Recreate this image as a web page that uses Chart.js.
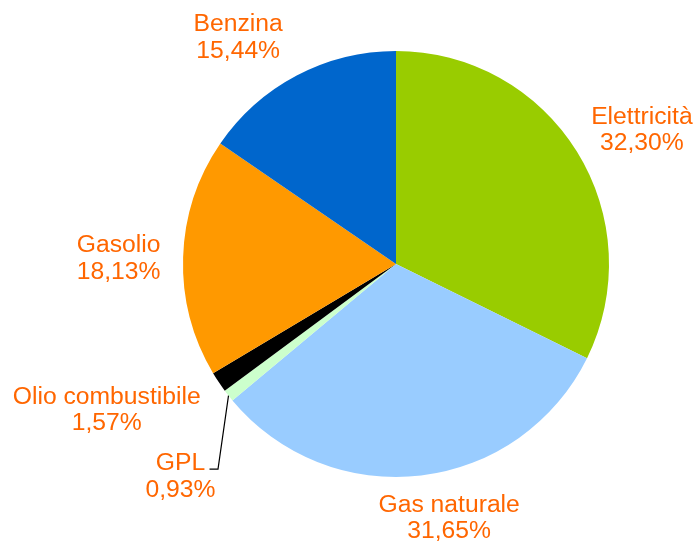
<!DOCTYPE html>
<html>
<head>
<meta charset="utf-8">
<script src="https://cdn.jsdelivr.net/npm/chart.js@4/dist/chart.umd.min.js"></script>
<style>
  body { margin: 0; background: #fff; }
  #wrap { width: 695px; height: 541px; }
</style>
</head>
<body>
<div id="wrap"><canvas id="myChart" width="695" height="541"></canvas></div>
<script>
// energy sources, clockwise from the top
const categories = ['Elettricità', 'Gas naturale', 'GPL', 'Olio combustibile', 'Gasolio', 'Benzina'];
const shares = [32.30, 31.65, 0.93, 1.57, 18.13, 15.44];
const sliceColors = ['#99cc00', '#99ccff', '#ccffcc', '#000000', '#ff9900', '#0066cc'];

// label offsets (px) from the point where each slice's mid-angle meets the rim;
// dx is the text centre, dy the first line's baseline
const labelLayout = [
  { dx: 65, dy: -28 },
  { dx: 28, dy: 36 },
  { dx: -48, dy: 74.5, leader: true },
  { dx: -112, dy: 21.5 },
  { dx: -64.5, dy: -5 },
  { dx: -58.5, dy: -44.5 }
];
const lineGap = 26.7;

const fmt = v => v.toFixed(2).replace('.', ',') + '%';

const pieLabels = {
  id: 'pieLabels',
  afterDatasetsDraw(chart) {
    const ctx = chart.ctx;
    const arcs = chart.getDatasetMeta(0).data;
    ctx.save();
    ctx.font = '24.7px "Liberation Sans", Arial, sans-serif';
    ctx.fillStyle = '#ff6600';
    ctx.textAlign = 'center';
    ctx.textBaseline = 'alphabetic';
    arcs.forEach((arc, i) => {
      const lay = labelLayout[i];
      const mid = (arc.startAngle + arc.endAngle) / 2;
      const ex = arc.x + Math.cos(mid) * arc.outerRadius;
      const ey = arc.y + Math.sin(mid) * arc.outerRadius;
      const x = ex + lay.dx;
      const y = ey + lay.dy;
      ctx.fillText(categories[i], x, y);
      ctx.fillText(fmt(shares[i]), x, y + lineGap);
      if (lay.leader) {
        ctx.strokeStyle = '#000';
        ctx.lineWidth = 1.2;
        ctx.beginPath();
        ctx.moveTo(ex, ey);
        ctx.lineTo(x + 37.5, y - 1);
        ctx.lineTo(x + 29, y - 1);
        ctx.stroke();
      }
    });
    ctx.restore();
  }
};

const config = {
  type: 'pie',
  data: {
    labels: categories,
    datasets: [{
      data: shares,
      backgroundColor: sliceColors,
      borderWidth: 0
    }]
  },
  options: {
    responsive: false,
    animation: false,
    layout: { padding: { left: 183, right: 86, top: 51, bottom: 64 } },
    plugins: {
      legend: { display: false },
      tooltip: { enabled: false }
    }
  },
  plugins: [pieLabels]
};

new Chart(document.getElementById('myChart'), config);
</script>
</body>
</html>
